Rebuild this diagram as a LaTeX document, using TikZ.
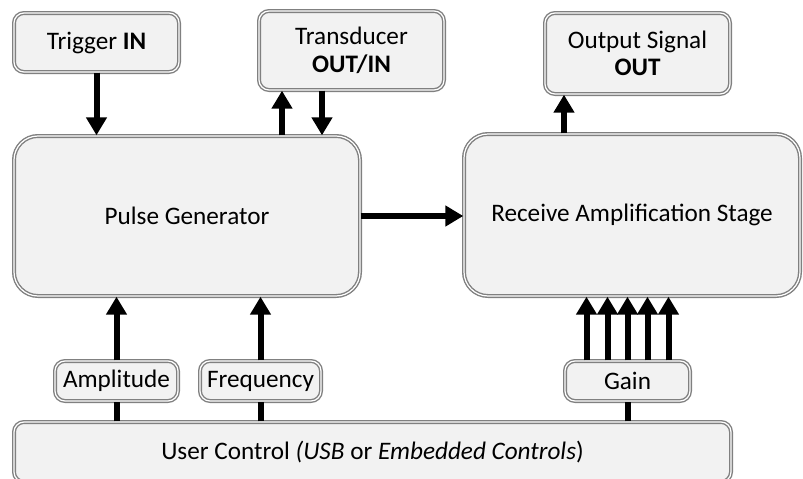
\documentclass[tikz,border=0pt]{standalone}
\usepackage{fontspec}
\setmainfont{Carlito}
\usetikzlibrary{arrows.meta,positioning,calc}
\definecolor{boxgray}{RGB}{128,128,128}
\definecolor{boxfill}{RGB}{242,242,242}
\tikzset{
  blk/.style={draw=boxgray, double=white, line width=1.4pt, double distance=1.2pt, fill=boxfill, rounded corners=10pt, inner sep=2pt, align=center},
  bigblk/.style={blk, rounded corners=24pt},
  arr/.style={line width=6pt, -{Triangle[width=20pt,length=18pt]}},
  link/.style={line width=6pt}
}
\begin{document}
\begin{tikzpicture}[x=1pt, y=-1pt, every node/.style={font=\fontsize{25.2}{27.5}\selectfont}]
    \useasboundingbox (0,0) rectangle (803,479);
    %% Top row
    \node[blk, minimum width=165, minimum height=59] (trig) at (96.5,42.5) {Trigger \textbf{IN}};
    \node[blk, minimum width=185, minimum height=79] (trans) at (351.5,50.5) {Transducer\\\textbf{OUT/IN}};
    \node[blk, minimum width=185, minimum height=81] (outsig) at (637.5,53.5) {Output Signal\\\textbf{OUT}};
    %% Main stages
    \node[bigblk, minimum width=346, minimum height=160] (pulse) at (187,216) {Pulse Generator};
    \node[bigblk, minimum width=336, minimum height=162] (recv) at (632,215) {Receive Amplification Stage};
    %% Controls
    \node[blk, minimum width=123, minimum height=40] (amp) at (116.5,381) {Amplitude};
    \node[blk, minimum width=121, minimum height=40] (freq) at (260.5,381) {Frequency};
    \node[blk, minimum width=125, minimum height=40] (gain) at (627.5,381) {Gain};
    \node[blk, minimum width=717, minimum height=60] (user) at (372.5,452) {User Control \textit{(USB} or \textit{Embedded Controls})};

    %% Connectors
    \draw[arr] (trig.south) -- (trig.south |- pulse.north);
    \coordinate (tup) at ([xshift=-69.5pt]trans.south);
    \coordinate (tdown) at ([xshift=-29.5pt]trans.south);
    \draw[arr] (tup |- pulse.north) -- (tup);
    \draw[arr] (tdown) -- (tdown |- pulse.north);
    \coordinate (oup) at ([xshift=-73.5pt]outsig.south);
    \draw[arr] (oup |- recv.north) -- (oup);
    \draw[arr] (pulse.east) -- (pulse.east -| recv.west);
    \draw[arr] (amp.north) -- (amp.north |- pulse.south);
    \draw[arr] (freq.north) -- (freq.north |- pulse.south);
    \foreach \dx in {-41,-20,0,20,41} {
        \draw[arr] ($(gain.north)+(\dx,0)$) -- ($(gain.north |- recv.south)+(\dx,0)$);
    }
    \draw[link] (user.north -| amp.south) -- (amp.south);
    \draw[link] (user.north -| freq.south) -- (freq.south);
    \draw[link] (user.north -| gain.south) -- (gain.south);
\end{tikzpicture}
\end{document}
